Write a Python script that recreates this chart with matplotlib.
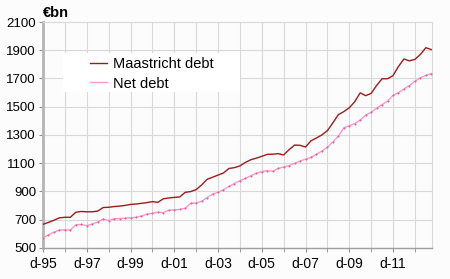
import numpy as np
import matplotlib
matplotlib.use("Agg")
import matplotlib.pyplot as plt
from matplotlib.patches import Rectangle

plt.rcParams['font.family'] = ['Liberation Sans', 'DejaVu Sans']

# quarterly, Q4 1995 .. Q3 2013 (€bn)
maastricht = [666, 680, 695, 712, 716, 716, 752, 757, 755, 755,
              760, 785, 787, 792, 795, 800, 807, 810, 815, 820,
              827, 822, 847, 853, 857, 860, 893, 898, 912, 945,
              985, 1000, 1015, 1030, 1062, 1068, 1080, 1105, 1124, 1135,
              1148, 1162, 1163, 1167, 1158, 1195, 1228, 1226, 1214, 1258,
              1278, 1300, 1330, 1385, 1443, 1465, 1492, 1535, 1598, 1578,
              1594, 1650, 1698, 1698, 1720, 1785, 1838, 1825, 1835, 1870,
              1918, 1905]
net_debt = [571, 592, 610, 626, 627, 626, 663, 665, 657, 668,
            683, 704, 693, 705, 707, 710, 712, 716, 725, 738,
            745, 752, 749, 766, 768, 772, 780, 815, 817, 830,
            855, 880, 893, 912, 935, 955, 975, 992, 1010, 1028,
            1040, 1047, 1042, 1062, 1073, 1082, 1098, 1115, 1128, 1140,
            1163, 1185, 1212, 1250, 1290, 1350, 1365, 1380, 1405, 1440,
            1460, 1490, 1515, 1540, 1580, 1600, 1625, 1650, 1680, 1705,
            1722, 1735]
tick_labels = ["d-95", "d-97", "d-99", "d-01", "d-03", "d-05", "d-07", "d-09", "d-11"]

q = np.arange(len(maastricht))

fig = plt.figure(figsize=(4.5, 2.79), dpi=100, facecolor="#fcfcfc")
ax = fig.add_axes([0.0956, 0.112, 0.864, 0.809])
ax.set_facecolor("#fcfcfc")

ax.plot(q, maastricht, color="#9e1b1b", lw=1.0, label="Maastricht debt", zorder=3)
ax.plot(q, net_debt, color="#ff99cc", lw=1.0, marker="o", ms=1.1,
        mfc="#d86a9a", mec="#d86a9a", mew=0.3, label="Net debt", zorder=3)

ax.set_xlim(0, 71.1)
ax.set_ylim(500, 2100)
ax.set_yticks(np.arange(500, 2101, 200))
ax.set_xticks(np.arange(0, 72, 8))
ax.set_xticklabels(tick_labels)
ax.set_xticks(np.arange(4, 72, 8), minor=True)
ax.grid(True, which="both", color="#d8d8d8", lw=0.8)
ax.set_axisbelow(True)

for s in ["top", "right"]:
    ax.spines[s].set_color("#d8d8d8")
    ax.spines[s].set_linewidth(0.8)
ax.spines["left"].set_color("#b4b4b4")
ax.spines["left"].set_linewidth(2.0)
ax.spines["bottom"].set_color("#a0a0a0")
ax.spines["bottom"].set_linewidth(1.0)
ax.tick_params(axis="both", which="both", color="#909090", length=3, labelsize=10)
ax.tick_params(axis="y", labelsize=9.5, pad=2)
ax.tick_params(axis="x", pad=4)

ax.text(0.0, 1.01, "€bn", transform=ax.transAxes, fontsize=10.5,
        fontweight="bold", ha="left", va="bottom")

# white legend background
ax.add_patch(Rectangle((0.051, 0.69), 0.455, 0.173, transform=ax.transAxes,
                       facecolor="white", edgecolor="none", zorder=2.5))
leg = ax.legend(loc="upper left", bbox_to_anchor=(0.12, 0.845), fontsize=10.5,
                frameon=False, handlelength=1.2, handletextpad=0.4,
                borderpad=0.0, labelspacing=0.38, borderaxespad=0)
for h in leg.get_lines():
    h.set_marker("")

fig.savefig("out.png", dpi=100, facecolor=fig.get_facecolor())
